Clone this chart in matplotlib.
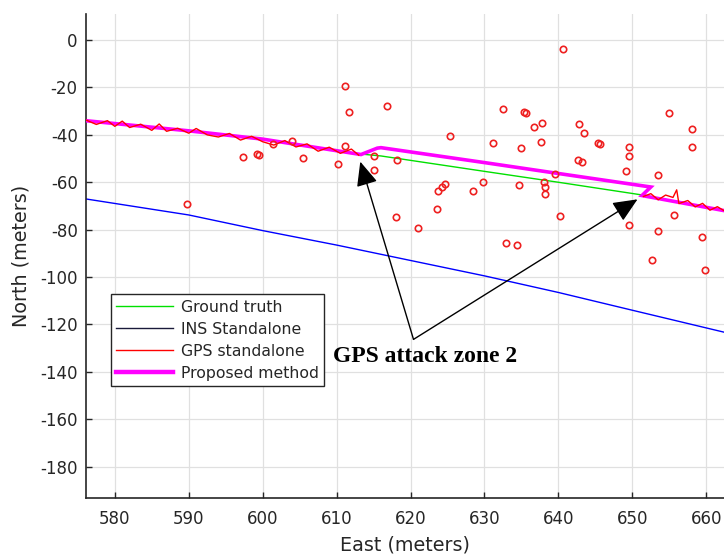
import matplotlib
matplotlib.use("Agg")
import matplotlib.pyplot as plt
from matplotlib.lines import Line2D

# ---------------- data ----------------
gt_east = [576, 590, 600, 613, 616, 630, 640, 651.2, 663]
gt_north = [-34, -38.3, -41.8, -48.0, -48.9, -55.4, -60.0, -65.3, -72.3]

ins_east = [576, 590, 600, 610, 620, 630, 640, 650, 663]
ins_north = [-67, -73.8, -80.4, -86.5, -93, -99.5, -106.5, -114, -123.7]

pm_east = [576, 590, 600, 613.3, 615.5, 616, 630, 640, 652.5, 651.3, 663]
pm_north = [-34, -38.3, -41.8, -48.3, -45.6, -45.4, -51.7, -56.3, -62.0, -65.6, -72.3]

gps_east_a = [576, 577.5, 579, 580, 581, 582, 583.5, 585, 586, 587, 588.5, 590, 591,
              592.5, 594, 595.5, 597, 598.5, 600, 601.5, 603, 604.5, 606, 607.5,
              609, 610.5, 612, 613]
gps_north_a = [-33.6, -35.6, -34.0, -36.4, -34.2, -36.9, -35.5, -38.1, -35.4, -38.5,
               -37.2, -39.3, -37.3, -40.0, -40.9, -39.4, -42.2, -40.6, -42.9, -44.3,
               -42.4, -45.1, -43.8, -46.9, -45.2, -47.8, -46.0, -48.6]
gps_east_b = [651.5, 652.5, 653.5, 654.5, 655.5, 656, 656.3, 657.5, 658.5, 659.5,
              660.5, 661.5, 663]
gps_north_b = [-66.0, -64.8, -67.4, -65.4, -66.4, -63.2, -69.0, -67.7, -70.4, -68.9,
               -71.8, -70.3, -73.1]

out_east = [611.1, 611.7, 616.8, 611.1, 610.2, 615.1, 615.1, 618.2, 605.4, 604.0,
            599.2, 599.5, 597.4, 589.8, 601.4, 618.1,
            640.6, 625.4, 632.5, 635.4, 635.6, 637.8, 636.7, 631.1, 634.9, 637.7,
            642.8, 643.4, 645.3, 645.6, 649.5, 649.5, 649.2, 642.6, 643.2, 639.5,
            654.9, 658.1, 658.1, 653.5, 624.6, 624.3, 623.7, 629.8, 628.5, 634.7,
            638.0, 638.2, 638.2, 623.6, 640.2, 655.7,
            621.0, 632.9, 634.4, 649.5, 653.5, 652.7, 659.4, 659.8]
out_north = [-19.4, -30.3, -27.8, -44.6, -52.3, -54.9, -48.8, -50.6, -49.9, -42.5,
             -48.0, -48.6, -49.5, -69.1, -43.9, -74.8,
             -3.9, -40.5, -29.1, -30.3, -30.7, -35.1, -36.8, -43.6, -45.7, -42.9,
             -35.6, -39.4, -43.3, -44.0, -45.3, -48.8, -55.3, -50.6, -51.4, -56.7,
             -30.9, -37.6, -45.3, -57.1, -60.9, -61.9, -63.7, -59.8, -63.7, -61.2,
             -60.0, -61.9, -64.9, -71.4, -74.3, -73.8,
             -79.2, -85.8, -86.5, -78.1, -80.5, -92.8, -83.0, -97.0]

x_ticks = [580, 590, 600, 610, 620, 630, 640, 650, 660]
y_ticks = [0, -20, -40, -60, -80, -100, -120, -140, -160, -180]

legend_labels = ["Ground truth", "INS Standalone", "GPS standalone", "Proposed method"]
annot_text = "GPS attack zone 2"
annot_vertex = (620.4, -126.3)
annot_tips = [(613.2, -51.3), (650.7, -67.2)]
annot_text_pos = (609.5, -135.7)

# ---------------- figure ----------------
axc = "#262626"
fig = plt.figure(figsize=(7.24, 5.57), dpi=100)
ax = fig.add_axes([86 / 724, (557 - 497.7) / 557, (724 - 86) / 724, (497.7 - 14) / 557])

ax.plot(ins_east, ins_north, color="#0000ff", lw=1.0, zorder=2)
ax.plot(gt_east, gt_north, color="#00e000", lw=1.0, zorder=3)
ax.plot(pm_east, pm_north, color="#ff00ff", lw=2.6, zorder=4, solid_joinstyle="miter")
ax.plot(gps_east_a, gps_north_a, color="#ff0000", lw=1.0, zorder=5)
ax.plot(gps_east_b, gps_north_b, color="#ff0000", lw=1.0, zorder=5)
ax.plot(out_east, out_north, linestyle="none", marker="o", markersize=4.6,
        markerfacecolor="none", markeredgecolor="#ee2020", markeredgewidth=1.2, zorder=6)

# annotation arrows
for tip in annot_tips:
    ax.annotate("", xy=tip, xytext=annot_vertex,
                arrowprops=dict(arrowstyle="-|>,head_length=0.5,head_width=0.22",
                                color="black", lw=1.0,
                                mutation_scale=30, shrinkA=0, shrinkB=0),
                zorder=7)
ax.text(annot_text_pos[0], annot_text_pos[1], annot_text, ha="left", va="baseline",
        fontsize=17, fontweight="bold", family="Liberation Serif", color="black", zorder=8)

ax.set_xlim(576.1, 662.4)
ax.set_ylim(-193.1, 11.0)
ax.set_xticks(x_ticks)
ax.set_yticks(y_ticks)
ax.set_yticklabels([str(v) for v in y_ticks])
ax.grid(True, color="#e0e0e0", lw=0.9)
ax.set_axisbelow(True)

for s in ["top", "right"]:
    ax.spines[s].set_visible(False)
for s in ["left", "bottom"]:
    ax.spines[s].set_color(axc)
    ax.spines[s].set_linewidth(1.2)

ax.tick_params(direction="in", length=4, width=1.0, color=axc, labelcolor=axc,
               labelsize=12)
ax.tick_params(axis="x", pad=9)
ax.tick_params(axis="y", pad=6)

ax.set_xlabel("East (meters)", fontsize=13.8, color=axc, labelpad=5)
ax.set_ylabel("North (meters)", fontsize=13.8, color=axc, labelpad=7)

handles = [
    Line2D([], [], color="#00e000", lw=1.0),
    Line2D([], [], color="#1a1a3a", lw=1.0),
    Line2D([], [], color="#ff0000", lw=1.0),
    Line2D([], [], color="#ff00ff", lw=3.2),
]
leg = ax.legend(handles, legend_labels, loc="upper left",
                bbox_to_anchor=(0.0387, 0.421), borderaxespad=0,
                fontsize=11.3, frameon=True, fancybox=False, framealpha=1,
                edgecolor=axc, handlelength=3.6, handletextpad=0.5,
                borderpad=0.35, labelspacing=0.45)
leg.get_frame().set_linewidth(1.0)
for t in leg.get_texts():
    t.set_color(axc)

fig.savefig("out.png", dpi=100)
